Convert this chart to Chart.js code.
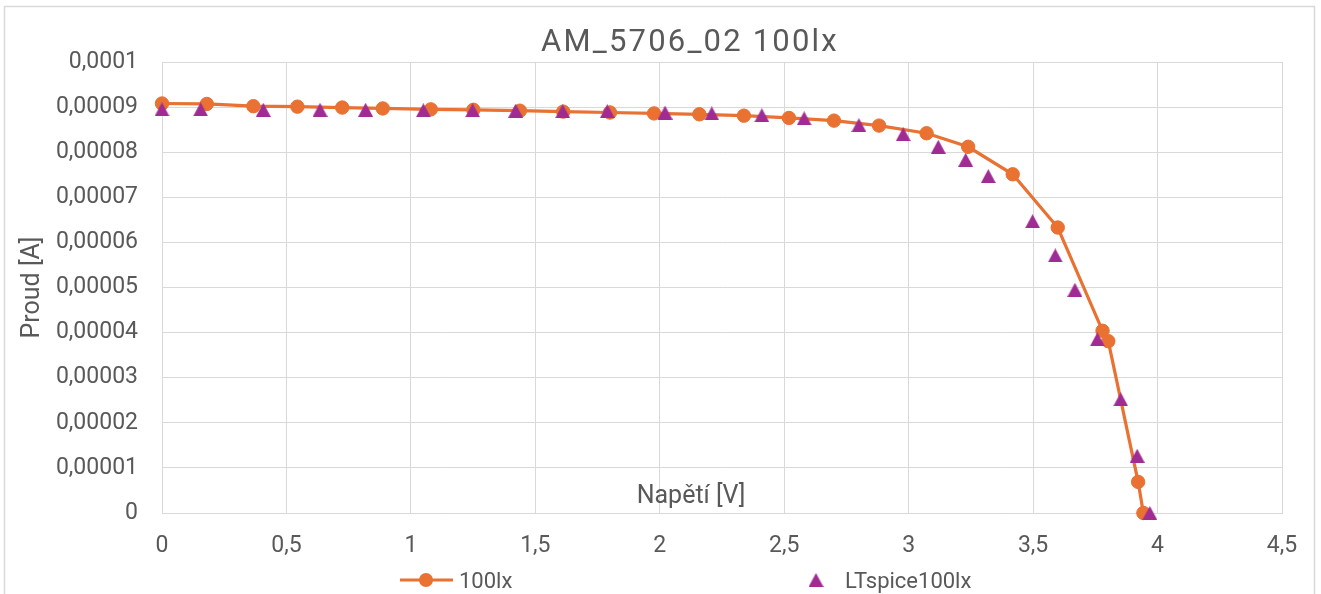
<!DOCTYPE html>
<html>
<head>
<meta charset="utf-8">
<title>AM_5706_02 100lx</title>
<script src="https://cdn.jsdelivr.net/npm/chart.js@4.4.1/dist/chart.umd.min.js"></script>
<style>
  html, body { margin: 0; padding: 0; background: #fff; }
</style>
</head>
<body>
<canvas id="ivChart" width="1321" height="594"></canvas>
<script>
// measured curve (orange line with circles)
const voltage100lx = [0, 0.180, 0.367, 0.544, 0.724, 0.887, 1.080, 1.251, 1.438, 1.612,
  1.800, 1.977, 2.159, 2.338, 2.519, 2.700, 2.881, 3.072, 3.239, 3.418,
  3.599, 3.779, 3.802, 3.922, 3.943]
const current100lx = [9.08e-5, 9.07e-5, 9.02e-5, 9.01e-5, 8.99e-5, 8.97e-5, 8.95e-5, 8.94e-5, 8.92e-5, 8.90e-5,
  8.88e-5, 8.86e-5, 8.84e-5, 8.81e-5, 8.76e-5, 8.70e-5, 8.59e-5, 8.42e-5, 8.12e-5, 7.51e-5,
  6.33e-5, 4.04e-5, 3.81e-5, 0.69e-5, 0]

// LTspice simulation (purple triangles)
const voltageLTspice = [0, 0.155, 0.407, 0.635, 0.818, 1.050, 1.248, 1.421, 1.610, 1.789,
  2.021, 2.209, 2.410, 2.580, 2.800, 2.978, 3.119, 3.229, 3.320, 3.498,
  3.589, 3.668, 3.758, 3.852, 3.918, 3.969]
const currentLTspice = [8.95e-5, 8.95e-5, 8.94e-5, 8.94e-5, 8.94e-5, 8.93e-5, 8.93e-5, 8.92e-5, 8.91e-5, 8.91e-5,
  8.88e-5, 8.86e-5, 8.82e-5, 8.75e-5, 8.60e-5, 8.40e-5, 8.12e-5, 7.83e-5, 7.47e-5, 6.47e-5,
  5.71e-5, 4.95e-5, 3.85e-5, 2.52e-5, 1.27e-5, 0]

const xTickValues = [0, 0.5, 1, 1.5, 2, 2.5, 3, 3.5, 4, 4.5]
const xTickLabels = ['0', '0,5', '1', '1,5', '2', '2,5', '3', '3,5', '4', '4,5']
const yTickValues = [0, 0.00001, 0.00002, 0.00003, 0.00004, 0.00005, 0.00006, 0.00007, 0.00008, 0.00009, 0.0001]
const yTickLabels = ['0', '0,00001', '0,00002', '0,00003', '0,00004', '0,00005', '0,00006', '0,00007', '0,00008', '0,00009', '0,0001']

const ORANGE = '#E97132'
const PURPLE = '#A02B93'
const TEXT = '#595959'
const GRID = '#d9d9d9'
const FONT = 'Roboto'

const toPoints = (xs, ys) => xs.map((x, i) => ({ x: x, y: ys[i] }))

// Excel centres the triangle on its bounding box, Chart.js on its circumcentre,
// so use a small canvas as the point style
function triangleMarker(w, h, color) {
  const c = document.createElement('canvas')
  c.width = w
  c.height = h
  const t = c.getContext('2d')
  t.fillStyle = color
  t.beginPath()
  t.moveTo(w / 2, 0)
  t.lineTo(w, h)
  t.lineTo(0, h)
  t.closePath()
  t.fill()
  return c
}
const triangle = triangleMarker(15, 14, PURPLE)

// frame, title, inner x-axis title and legend, laid out like the Excel original
const excelDecor = {
  id: 'excelDecor',
  beforeDraw(chart) {
    const ctx = chart.ctx
    ctx.save()
    ctx.fillStyle = '#fff'
    ctx.fillRect(0, 0, chart.width, chart.height)
    ctx.strokeStyle = GRID
    ctx.lineWidth = 1.5
    ctx.strokeRect(4.5, 6.5, 1310, 590)
    ctx.restore()
  },
  afterDraw(chart) {
    const ctx = chart.ctx
    const area = chart.chartArea
    ctx.save()
    ctx.fillStyle = TEXT
    ctx.textBaseline = 'alphabetic'

    // chart title
    ctx.font = '31px ' + FONT
    ctx.letterSpacing = '2.2px'
    ctx.textAlign = 'center'
    ctx.fillText('AM_5706_02 100lx', 690, 51)
    ctx.letterSpacing = '0px'

    // x axis title sits inside the plot, just above the axis
    ctx.font = '25px ' + FONT
    ctx.fillText('Napětí [V]', 691, area.bottom - 10)

    // legend
    const ly = 580
    ctx.strokeStyle = ORANGE
    ctx.lineWidth = 3
    ctx.beginPath()
    ctx.moveTo(400, ly)
    ctx.lineTo(453, ly)
    ctx.stroke()
    ctx.fillStyle = ORANGE
    ctx.beginPath()
    ctx.arc(426, ly, 7, 0, Math.PI * 2)
    ctx.fill()
    ctx.drawImage(triangle, 816 - 7.5, ly - 7)

    ctx.fillStyle = TEXT
    ctx.font = '22px ' + FONT
    ctx.textAlign = 'left'
    ctx.fillText('100lx', 459, ly + 8)
    ctx.fillText('LTspice100lx', 845, ly + 8)
    ctx.restore()
  }
}

const ctx = document.getElementById('ivChart').getContext('2d')

new Chart(ctx, {
  type: 'scatter',
  data: {
    datasets: [
      {
        label: '100lx',
        data: toPoints(voltage100lx, current100lx),
        showLine: true,
        borderColor: ORANGE,
        backgroundColor: ORANGE,
        borderWidth: 3.2,
        pointStyle: 'circle',
        pointRadius: 6.7,
        pointBorderWidth: 1,
        pointBorderColor: ORANGE,
        pointBackgroundColor: ORANGE,
        tension: 0,
        clip: false,
        order: 1
      },
      {
        label: 'LTspice100lx',
        data: toPoints(voltageLTspice, currentLTspice),
        showLine: false,
        pointStyle: triangle,
        pointRadius: 8,
        pointBackgroundColor: PURPLE,
        pointBorderColor: PURPLE,
        clip: false,
        order: 0
      }
    ]
  },
  options: {
    responsive: false,
    animation: false,
    devicePixelRatio: 1,
    layout: {
      padding: { top: 62, right: 39, bottom: 0, left: 0 }
    },
    plugins: {
      legend: { display: false },
      title: { display: false },
      tooltip: { enabled: false }
    },
    scales: {
      x: {
        type: 'linear',
        min: 0,
        max: 4.5,
        afterBuildTicks: (scale) => {
          scale.ticks = xTickValues.map(v => ({ value: v }))
        },
        afterFit: (scale) => { scale.height = 81 },
        grid: { color: GRID, lineWidth: 1, drawTicks: false },
        border: { color: GRID, width: 1 },
        ticks: {
          padding: 19,
          color: TEXT,
          font: { family: FONT, size: 23 },
          maxRotation: 0,
          callback: (value, index) => xTickLabels[index]
        }
      },
      y: {
        type: 'linear',
        min: 0,
        max: 0.0001,
        afterBuildTicks: (scale) => {
          scale.ticks = yTickValues.map(v => ({ value: v }))
        },
        afterFit: (scale) => { scale.width = 162 },
        grid: { color: GRID, lineWidth: 1, drawTicks: false },
        border: { color: GRID, width: 1 },
        ticks: {
          padding: 24,
          color: TEXT,
          font: { family: FONT, size: 23 },
          callback: (value, index) => yTickLabels[index]
        },
        title: {
          display: true,
          text: 'Proud [A]',
          color: TEXT,
          font: { family: FONT, size: 25 },
          padding: { top: 18, bottom: 0 }
        }
      }
    }
  },
  plugins: [excelDecor]
})
</script>
</body>
</html>
